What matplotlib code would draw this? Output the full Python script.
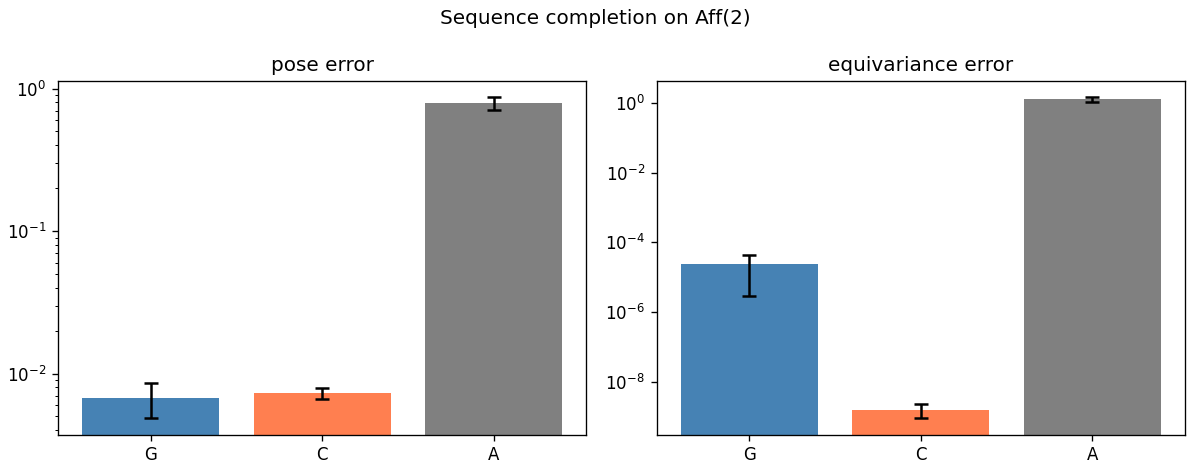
import matplotlib
matplotlib.use("Agg")
import matplotlib.pyplot as plt

categories = ["G", "C", "A"]
colors = ["steelblue", "coral", "gray"]

pose_err = [0.00668, 0.00728, 0.789]
pose_std = [0.00184, 0.00065, 0.082]

equiv_err = [2.31e-5, 1.55e-9, 1.276]
equiv_std = [2.03e-5, 0.68e-9, 0.20]

DPI = 120
fig, axes = plt.subplots(1, 2, figsize=(1190 / DPI, 461 / DPI), dpi=DPI)

for ax, vals, errs, title in [
    (axes[0], pose_err, pose_std, "pose error"),
    (axes[1], equiv_err, equiv_std, "equivariance error"),
]:
    ax.bar(categories, vals, yerr=errs, color=colors, capsize=4,
           error_kw=dict(ecolor="black", elinewidth=1.5, capthick=1.5))
    ax.set_yscale("log")
    ax.set_title(title)

fig.suptitle("Sequence completion on Aff(2)")
fig.subplots_adjust(left=58 / 1190, right=1185 / 1190,
                    bottom=1 - 434.5 / 461, top=1 - 81 / 461, wspace=0.1325)
fig.savefig("out.png", dpi=DPI)
